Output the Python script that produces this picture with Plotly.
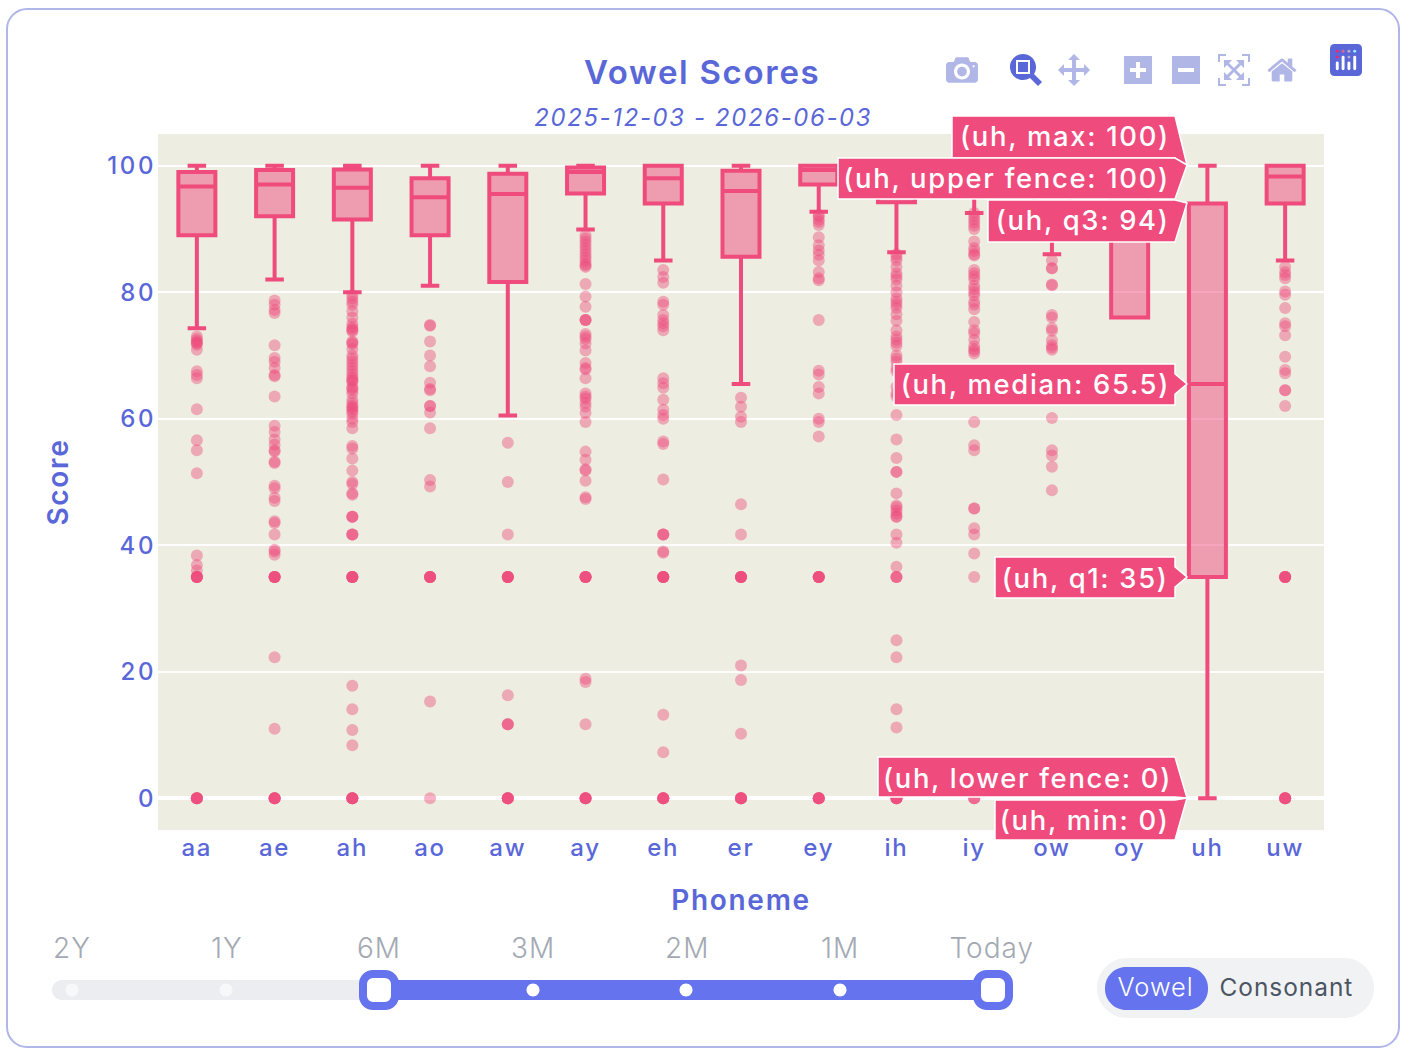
import plotly.graph_objects as go

phonemes = ["aa","ae","ah","ao","aw","ay","eh","er","ey","ih","iy","ow","oy","uh","uw"]
q1 = [89,92,91.5,89,81.6,95.6,94,85.6,97,94.2,96,92,76,35,94]
medians = [96.7,97,96.5,95,95.5,99,98,96,99.3,97.5,98,97,92,65.5,98.3]
q3 = [99,99.3,99.4,98,98.7,99.7,100,99.2,100,99,99.5,99,98,94,100]
lower_fence = [74.3,82,80,81,60.5,89.9,85,65.5,92.7,86.3,92.5,86,76,0,85]
upper_fence = [100]*15

ZERO = [0]*6
FLOOR = [35]*6
aa = [73,72.6,72.3,72,72,71.7,70.9,67.5,66.9,66.4,61.5,56.6,55,51.4,38.4,36.9,36]+FLOOR+ZERO
ae = [78.7,78,77.2,76.7,71.6,69.6,69,68,66.9,66.7,63.5,58.9,57.9,56.7,55.9,55,54.8,53.2,53,49.4,49,47.5,47,43.8,43.5,41.7,39.3,39,38.5]+FLOOR+[22.3,11]+ZERO
ah = [79.5,79,78.5,78,77,76,75,74.5,74.2,74,73.8,72.2,72,71.8,71,70,69.5,69,68.5,68,67.5,67,66.5,66.2,66,65.8,65,64.8,64.5,64,63,62.5,62,61.8,61.5,61.2,60.8,60,59.5,58.5,55.7,55.3,53.7,51.8,50,49.7,48.2,48,44.5,44.5,44.5,41.7,41.7,41.7]+FLOOR+[17.8,14.1,10.8,8.4]+ZERO
ao = [74.8,74.7,72.2,70,68.3,65.7,64.7,64.5,62,62,61,58.5,50.3,49.3]+FLOOR+[15.3,0]
aw = [56.2,50,41.7]+FLOOR+[16.3,11.7,11.7,11.7]+ZERO
ay = [89,88.5,88,87.5,87,86.5,86,85.5,85,84.5,84.2,84,81.3,79.3,77.7,75.6,75.6,75.6,73.4,73,72.6,71.9,70.8,68.8,68,67.8,66.4,64,63.5,63.2,62.5,61.9,60.9,59.5,54.8,53.5,52,51.8,50.2,47.6,47.3]+FLOOR+[18.9,18.4,11.7]+ZERO
eh = [83.5,82.4,81.5,78.5,78,76.4,75.6,75.1,74.6,74,66.4,65.6,64.9,63,61.4,60.6,60,56.4,56,50.4,41.7,41.7,41.7,39,38.8]+FLOOR+[13.2,7.3]+ZERO
er = [63.3,61.9,60.3,59.5,46.5,41.7]+FLOOR+[21,18.7,10.2]+ZERO
ey = [92.2,92,91.5,91.1,90.6,88.7,87.4,86.6,85.9,85,83.2,82.2,81.9,75.6,67.6,67,65,64,60,59.5,57.2]+FLOOR+ZERO
ih = [86,85.5,85,84,83,82.5,82,81,80,79,78.5,78,77.5,76.5,75.5,74,73,72.5,72,71.5,70,69.5,69,68,67.5,65,64,63.5,60.6,56.7,53.8,51.6,51.6,48.2,46.3,46,45.5,45,44.5,44.5,41.7,40.4,36.6,35,35,35,25,22.3,14.1,11.2]+ZERO
iy = [92.5,92,91.5,91,90.5,90,88,87,86.5,86,85.8,83.5,83,82.5,82,81,80.5,80,79.5,78.5,78,77.3,75.3,74,73.5,72.5,71.5,71,70.7,70.3,59.5,55.8,55,45.8,45.8,42.7,41.7,38.7,35,0,0,0]
ow = [85,83.8,83.8,81.2,81.1,76.4,76,74.3,73.9,72.4,71.6,71.2,70.9,60.1,55,54.2,52.4,48.7]
oy = []
uh = []
uw = [84,83.2,82.7,82.2,80.1,79.6,77.5,75.1,74.6,73.2,69.8,67.7,67.2,64.5,64.5,62]+FLOOR+ZERO
outliers = [aa,ae,ah,ao,aw,ay,eh,er,ey,ih,iy,ow,oy,uh,uw]

slider_labels = ["2Y","1Y","6M","3M","2M","1M","Today"]
hover_texts = ["(uh, max: 100)","(uh, upper fence: 100)","(uh, q3: 94)","(uh, median: 65.5)","(uh, q1: 35)","(uh, lower fence: 0)","(uh, min: 0)"]
INK = "#5A67D8"; PINK = "#EF4B7D"; BLUE = "#6573EE"

def fx(p): return (p-158)/1166
def fy(p): return (830-p)/696
def rr(x0,y0,x1,y1,r):
    k=r*0.45
    pts=[("M",x0+r,y0),("L",x1-r,y0),("C",x1-k,y0,x1,y0+k,x1,y0+r),("L",x1,y1-r),("C",x1,y1-k,x1-k,y1,x1-r,y1),
         ("L",x0+r,y1),("C",x0+k,y1,x0,y1-k,x0,y1-r),("L",x0,y0+r),("C",x0,y0+k,x0+k,y0,x0+r,y0)]
    s=""
    for p in pts:
        vals=p[1:]
        s+=p[0]+" "+" ".join(f"{fx(vals[i]):.5f},{fy(vals[i+1]):.5f}" for i in range(0,len(vals),2))+" "
    return s+"Z"
def shp(x0,y0,x1,y1,r,fill,line=None,w=0):
    return dict(type="path",xref="paper",yref="paper",path=rr(x0,y0,x1,y1,r),fillcolor=fill,
                line=dict(color=line or "rgba(0,0,0,0)",width=w),layer="above")
def poly(pts):
    return dict(type="path",xref="paper",yref="paper",layer="above",fillcolor=PINK,line=dict(color="white",width=0.75),
                path="M "+" L ".join(f"{fx(a):.5f},{fy(b):.5f}" for a,b in pts)+" Z")

shapes=[shp(7,9,1399,1047,20,"rgba(0,0,0,0)","#B0B6E8",1),
        shp(52,980,392,1000,10,"#ECEDF1"),
        shp(375,980,995,1000,0.1,BLUE)]
for x in [72,226,533,686,840]:
    shapes.append(shp(x-6.5,983.5,x+6.5,996.5,6.5,"#F7F8FA" if x<300 else "white"))
for x in [379,993]:
    shapes.append(shp(x-16,974,x+16,1006,10,"white",BLUE,4))
shapes+= [shp(1097,958,1374,1018,30,"#F1F2F4"), shp(1105,967,1208,1010,21,BLUE)]
R=1175; T=1187
label_boxes=[
 [(952,116),(R,116),(T,165),(R,158),(952,158)],
 [(838,158),(R,158),(T,165),(R,199),(838,199)],
 [(988,200),(R,200),(T,203),(R,242),(988,242)],
 [(894,364),(R,364),(R,374),(T,384),(R,394),(R,405),(894,405)],
 [(995,557),(R,557),(R,567),(T,577),(R,587),(R,598),(995,598)],
 [(878,757),(R,757),(T,798),(R,797),(878,797)],
 [(995,800),(R,800),(T,798),(R,840),(995,840)],
]
shapes+=[poly(b) for b in label_boxes]
label_y=[136,178,220,384,577,777,819]
label_x=[1064,1007,1083,1035,1085,1026.5,1085]

anns=[]
for t,x in zip(slider_labels,[72,226,379,532,686,839,992]):
    anns.append(dict(text=t,x=fx(x),y=fy(946),xref="paper",yref="paper",showarrow=False,
                     font=dict(size=14,color="#A3A9B3",family="Inter",weight=300),xanchor="center",yanchor="middle"))
anns.append(dict(text="Vowel",x=fx(1156),y=fy(987),xref="paper",yref="paper",showarrow=False,
                 font=dict(size=12.7,color="white",family="Inter",weight=300),xanchor="center",yanchor="middle"))
anns.append(dict(text="Consonant",x=fx(1286),y=fy(987),xref="paper",yref="paper",showarrow=False,
                 font=dict(size=12.2,color="#4B5563",family="Inter"),xanchor="center",yanchor="middle"))
anns.append(dict(text="2025-12-03 - 2026-06-03",x=fx(703),y=fy(117.5),xref="paper",yref="paper",showarrow=False,
           font=dict(size=11.9,color=INK,style="italic",family="Inter",weight=400),xanchor="center",yanchor="middle"))
for t,x,y in zip(hover_texts,label_x,label_y):
    anns.append(dict(text=t,x=fx(x),y=fy(y),xref="paper",yref="paper",showarrow=False,
                     font=dict(size=13.7,color="white",family="Inter",weight=500),xanchor="center",yanchor="middle"))

fig=go.Figure()
fig.add_trace(go.Box(x=phonemes,q1=q1,median=medians,q3=q3,lowerfence=lower_fence,upperfence=upper_fence,
                     line=dict(color=PINK,width=2),marker=dict(color=PINK),boxpoints=False,showlegend=False,
                     whiskerwidth=0.5,hoveron="boxes",hoverlabel=dict(bgcolor=PINK,bordercolor="white",font=dict(family="Inter",size=14,color="white"))))
xs=[];ys=[]
for p,vals in zip(phonemes,outliers):
    xs+=[p]*len(vals);ys+=vals
fig.add_trace(go.Scatter(x=xs,y=ys,mode="markers",hoverinfo="skip",showlegend=False,cliponaxis=False,
                         marker=dict(color="rgba(239,75,125,0.42)",size=6,line=dict(width=0))))
fig.update_layout(width=705,height=531,margin=dict(l=79,r=43,t=67,b=116),paper_bgcolor="white",plot_bgcolor="#EDEDE1",
    boxgap=0.3,boxgroupgap=0.32,hovermode="closest",dragmode="zoom",showlegend=False,
    font=dict(family="Inter",color=INK,size=12),
    title=dict(text="Vowel Scores",x=0.498,xanchor="center",y=0.932,yanchor="middle",font=dict(size=16.5,color=INK,family="Inter",weight=600)),
    xaxis=dict(title=dict(text="Phoneme",font=dict(size=14,weight=600,color=INK),standoff=14.5),type="category",categoryorder="array",categoryarray=phonemes,
               range=[-0.5,14.5],showgrid=False,ticks="",tickfont=dict(size=12,color=INK,weight=500),zeroline=False),
    yaxis=dict(title=dict(text="Score",font=dict(size=14,weight=600,color=INK),standoff=19),range=[-5,105],tickvals=[0,20,40,60,80,100],
               gridcolor="white",gridwidth=1,zeroline=True,zerolinecolor="white",zerolinewidth=1.5,ticks="",tickfont=dict(size=12,color=INK,weight=500)),
    modebar=dict(bgcolor="rgba(0,0,0,0)",color="#B0B6E6",activecolor="#5A67D8"),
    shapes=shapes,annotations=anns)

slim=",".join(f'.main-svg .annotation[data-index=\\"{i}\\"] text' for i in range(9))
post = """
var gd=document.getElementById('{plot_id}');
document.body.style.margin='0';document.body.style.overflow='hidden';
document.documentElement.style.overflow='hidden';
var st=document.createElement('style');
st.textContent="* .main-svg text{letter-spacing:0.85px} .main-svg .ytick text{letter-spacing:1.3px} SLIM{letter-spacing:0.5px}"
 +' .modebar{top:24px !important;right:20px !important} .modebar-btn--logo{top:-5px !important}'
 +' .modebar-btn--logo svg rect[width="132"]{fill:#5A67D8 !important} .modebar-btn--logo svg .cls-0{fill:#5A67D8 !important}';
document.head.appendChild(st);
gd.style.transformOrigin='0 0';gd.style.transform='scale(2)';
Plotly.relayout(gd,{});
""".replace("SLIM",slim)
fig.write_html("out.html",post_script=post,config=dict(displayModeBar=True,modeBarButtonsToRemove=["select2d","lasso2d"]))
